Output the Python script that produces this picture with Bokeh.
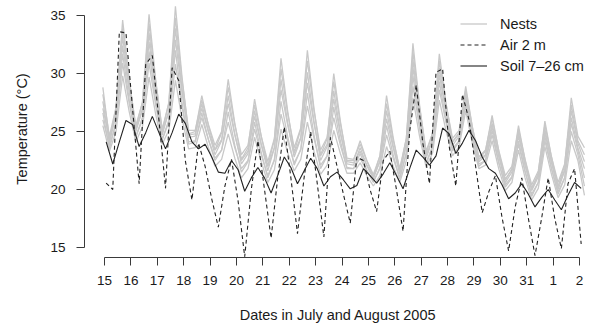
import numpy as np
from bokeh.plotting import figure
from bokeh.models import FixedTicker, Legend, LegendItem, Range1d
from bokeh.embed import file_html
from bokeh.resources import INLINE

# Day ticks: 15-31 July, then 1-2 August (numbered on from July)
day_ticks = list(range(15, 34))
day_labels = [str(d) for d in range(15, 32)] + ["1", "2"]

# Air and soil readings every 6 h from 15 July 01:30
reading_hours = 1.5 + 6 * np.arange(73)
# Nest loggers every 6 h from 14 July 22:30
nest_hours = -1.5 + 6 * np.arange(74)

air_2m = [20.55, 20.0, 33.6, 33.5, 27.0, 20.5, 30.8, 31.55, 26.0, 20.1,
          30.5, 29.4, 22.5, 19.1, 24.0, 22.0, 19.2, 16.75, 20.3, 22.6,
          19.0, 14.2, 20.0, 24.2, 20.0, 15.8, 21.0, 25.4, 21.0, 16.2,
          21.0, 25.0, 20.5, 15.9, 24.5, 22.0, 19.5, 17.1, 22.8, 22.5,
          20.0, 18.1, 22.5, 23.3, 20.0, 16.4, 25.0, 29.0, 24.0, 20.5,
          30.1, 30.4, 23.7, 20.3, 28.2, 26.0, 22.0, 18.0, 19.8, 21.2,
          17.6, 14.7, 18.5, 21.0, 17.5, 14.3, 17.5, 21.0, 17.5, 14.9,
          20.5, 21.8, 15.3]

soil_7_26cm = [24.1, 22.2, 24.1, 25.95, 25.6, 23.7, 24.9, 26.3, 24.9, 23.5,
               24.9, 26.5, 25.7, 24.1, 23.5, 23.9, 22.8, 21.5, 21.4, 22.5,
               21.7, 19.85, 21.0, 21.9, 21.0, 19.7, 21.2, 22.8, 21.9, 20.5,
               21.6, 22.7, 21.8, 20.3, 21.1, 21.5, 20.8, 20.06, 20.35, 21.8,
               21.2, 20.55, 21.35, 22.3, 21.2, 20.06, 21.8, 23.4, 22.8, 22.1,
               22.9, 25.3, 24.8, 23.1, 24.0, 25.1, 24.2, 22.8, 21.8, 21.4,
               20.4, 19.2, 19.7, 20.5, 19.6, 18.5, 19.3, 20.0, 19.1, 18.25,
               19.5, 20.6, 20.1]

nest_a = [28.8,
          24.3, 27.0, 34.6, 29.5, 25.3, 27.5, 35.1, 29.5, 25.0, 27.5, 35.8, 29.7,
          24.8, 25.0, 28.1, 25.5, 23.4, 24.9, 29.5, 25.7, 22.6, 23.6, 27.8, 24.6,
          22.0, 24.3, 31.3, 26.8, 23.2, 25.2, 32.0, 27.0, 23.0, 24.4, 30.0, 25.9,
          22.5, 22.5, 24.2, 22.5, 21.1, 22.9, 28.1, 24.5, 21.6, 24.4, 32.6, 27.3,
          23.1, 24.9, 31.7, 27.5, 24.1, 24.9, 28.9, 25.4, 22.6, 23.3, 26.4, 23.3,
          20.8, 21.8, 25.5, 22.5, 20.1, 21.4, 25.9, 22.8, 20.2, 22.1, 27.9, 24.6,
          23.6]
nest_b = [28.2,
          24.6, 27.1, 33.9, 29.3, 25.5, 27.5, 34.3, 29.3, 25.2, 27.4, 34.8, 29.4,
          25.1, 25.1, 27.7, 25.6, 23.8, 25.0, 28.8, 25.6, 23.0, 23.8, 27.3, 24.6,
          22.4, 24.4, 30.4, 26.6, 23.6, 25.3, 31.1, 26.8, 23.4, 24.5, 29.3, 25.7,
          22.7, 22.6, 23.9, 22.5, 21.3, 22.9, 27.4, 24.3, 21.8, 24.4, 31.9, 27.1,
          23.3, 24.9, 31.1, 27.4, 24.4, 25.1, 28.6, 25.4, 22.8, 23.4, 26.1, 23.4,
          21.2, 22.0, 25.2, 22.6, 20.4, 21.6, 25.6, 22.8, 20.6, 22.2, 27.3, 24.2,
          23.0]
nest_c = [27.6,
          24.0, 26.5, 33.2, 28.7, 25.0, 26.9, 33.5, 28.6, 24.7, 26.8, 33.9, 28.7,
          24.5, 24.6, 27.4, 25.0, 23.0, 24.2, 28.1, 24.8, 22.2, 23.1, 26.8, 23.9,
          21.6, 23.6, 29.5, 25.8, 22.8, 24.4, 30.1, 25.9, 22.5, 23.7, 28.5, 25.0,
          22.2, 22.1, 23.6, 22.1, 20.9, 22.5, 26.8, 23.8, 21.3, 23.9, 31.2, 26.5,
          22.7, 24.3, 30.5, 26.8, 23.8, 24.6, 28.3, 25.0, 22.4, 22.9, 25.7, 22.9,
          20.6, 21.5, 24.9, 22.1, 19.9, 21.1, 25.2, 22.3, 20.0, 21.6, 26.8, 24.0,
          22.4]
nest_d = [27.0,
          24.3, 26.5, 32.4, 28.4, 25.2, 26.9, 32.7, 28.4, 24.9, 26.7, 32.9, 28.4,
          24.7, 24.8, 27.0, 25.0, 23.4, 24.3, 27.4, 24.7, 22.5, 23.3, 26.3, 23.9,
          22.0, 23.6, 28.6, 25.6, 23.1, 24.5, 29.2, 25.7, 22.9, 23.9, 27.8, 24.8,
          22.4, 22.3, 23.3, 22.1, 21.1, 22.4, 26.1, 23.6, 21.5, 23.9, 30.5, 26.3,
          22.9, 24.4, 29.9, 26.7, 24.1, 24.8, 28.0, 25.0, 22.6, 23.0, 25.4, 22.9,
          20.9, 21.7, 24.6, 22.1, 20.1, 21.2, 24.9, 22.4, 20.3, 21.7, 26.2, 23.6,
          21.8]
nest_e = [26.6,
          23.5, 25.8, 31.7, 27.7, 24.5, 26.2, 31.9, 27.7, 24.3, 26.0, 32.0, 27.5,
          23.9, 24.1, 26.6, 24.3, 22.5, 23.4, 26.7, 23.8, 21.5, 22.4, 25.8, 23.2,
          21.0, 22.6, 27.6, 24.6, 22.1, 23.5, 28.3, 24.7, 21.8, 22.9, 27.1, 24.2,
          21.8, 21.8, 23.1, 21.7, 20.6, 21.9, 25.5, 23.0, 20.9, 23.2, 29.8, 25.6,
          22.2, 23.8, 29.3, 26.0, 23.3, 24.1, 27.6, 24.5, 22.0, 22.5, 25.1, 22.4,
          20.2, 21.0, 24.2, 21.6, 19.4, 20.6, 24.6, 21.8, 19.6, 21.0, 25.7, 23.4,
          21.0]
nest_f = [26.0,
          23.8, 25.7, 30.9, 27.4, 24.6, 26.0, 30.9, 27.3, 24.3, 25.8, 30.8, 27.1,
          24.1, 24.2, 26.2, 24.3, 22.7, 23.4, 25.8, 23.6, 21.8, 22.5, 25.2, 23.0,
          21.2, 22.5, 26.5, 24.2, 22.3, 23.4, 27.2, 24.4, 22.1, 22.9, 26.2, 23.8,
          21.9, 21.8, 22.7, 21.6, 20.7, 21.8, 24.7, 22.7, 21.0, 23.1, 28.9, 25.3,
          22.3, 23.7, 28.6, 25.8, 23.5, 24.2, 27.3, 24.5, 22.2, 22.5, 24.7, 22.3,
          20.4, 21.1, 23.9, 21.5, 19.6, 20.6, 24.2, 21.8, 19.8, 21.0, 25.0, 23.0,
          20.3]
nest_g = [25.5,
          23.3, 25.0, 29.8, 26.7, 24.1, 25.4, 29.7, 26.5, 23.9, 25.1, 29.4, 26.1,
          23.5, 23.6, 25.6, 23.6, 22.0, 22.6, 24.8, 22.7, 21.0, 21.8, 24.5, 22.4,
          20.6, 21.7, 25.2, 23.2, 21.6, 22.6, 25.8, 23.3, 21.3, 22.1, 25.1, 23.1,
          21.4, 21.4, 22.3, 21.2, 20.3, 21.2, 23.7, 22.0, 20.6, 22.5, 27.9, 24.6,
          21.9, 23.2, 27.7, 25.1, 22.9, 23.7, 26.8, 24.0, 21.8, 22.1, 24.2, 21.8,
          19.9, 20.6, 23.4, 21.0, 19.1, 20.1, 23.7, 21.3, 19.3, 20.4, 24.2, 22.5,
          19.5]
nests = [nest_a, nest_b, nest_c, nest_d, nest_e, nest_f, nest_g]

reading_days = 15 + reading_hours / 24.0
nest_days = 15 + nest_hours / 24.0

FONT = "Liberation Sans"
INK = "#1a1a1a"
AXIS = "#3a3a3a"

p = figure(width=591, height=327,
           x_range=Range1d(14.242, 33.454), y_range=Range1d(14.137, 36.293),
           output_backend="svg", toolbar_location=None,
           min_border_left=84, min_border_right=0,
           min_border_top=0, min_border_bottom=70)
p.outline_line_color = None
p.xgrid.visible = False
p.ygrid.visible = False

nest_renderers = [
    p.line(nest_days, vals, line_color="#c8c8c8", line_width=1.3)
    for vals in nests
]
air_r = p.line(reading_days, air_2m, line_color="#222222",
               line_width=1.1, line_dash="4 3")
soil_r = p.line(reading_days, soil_7_26cm, line_color="#222222", line_width=1.1)

p.xaxis.ticker = FixedTicker(ticks=day_ticks)
p.xaxis.major_label_overrides = {t: lab for t, lab in zip(day_ticks, day_labels)}
p.xaxis.bounds = (15, 33)
p.yaxis.ticker = FixedTicker(ticks=[15, 20, 25, 30, 35])
p.yaxis.bounds = (15, 35)
p.xaxis.axis_label = "Dates in July and August 2005"
p.yaxis.axis_label = "Temperature (°C)"

for ax in (p.xaxis[0], p.yaxis[0]):
    ax.axis_line_color = AXIS
    ax.major_tick_line_color = AXIS
    ax.minor_tick_line_color = None
    ax.major_tick_in = 0
    ax.major_tick_out = 8
    ax.major_label_standoff = 11
    ax.major_label_text_font = FONT
    ax.major_label_text_font_size = "13.5px"
    ax.major_label_text_color = INK
    ax.major_label_text_line_height = 1.0
    ax.axis_label_text_font = FONT
    ax.axis_label_text_font_size = "14.5px"
    ax.axis_label_text_font_style = "normal"
    ax.axis_label_text_color = INK
    ax.axis_label_text_line_height = 1.0
p.xaxis.major_label_standoff = 10
p.xaxis.axis_label_standoff = 19
p.yaxis.axis_label_standoff = 17

legend = Legend(
    items=[
        LegendItem(label="Nests", renderers=[nest_renderers[0]]),
        LegendItem(label="Air 2 m", renderers=[air_r]),
        LegendItem(label="Soil 7–26 cm", renderers=[soil_r]),
    ],
    location=(376, 181),
    border_line_color=None, background_fill_alpha=0,
    padding=0, margin=0, spacing=0,
    glyph_width=27, glyph_height=21, label_height=21, label_standoff=13,
    label_text_font=FONT, label_text_font_size="14.5px", label_text_color=INK,
)
p.add_layout(legend)

open("out.html", "w").write(file_html(p, INLINE))
